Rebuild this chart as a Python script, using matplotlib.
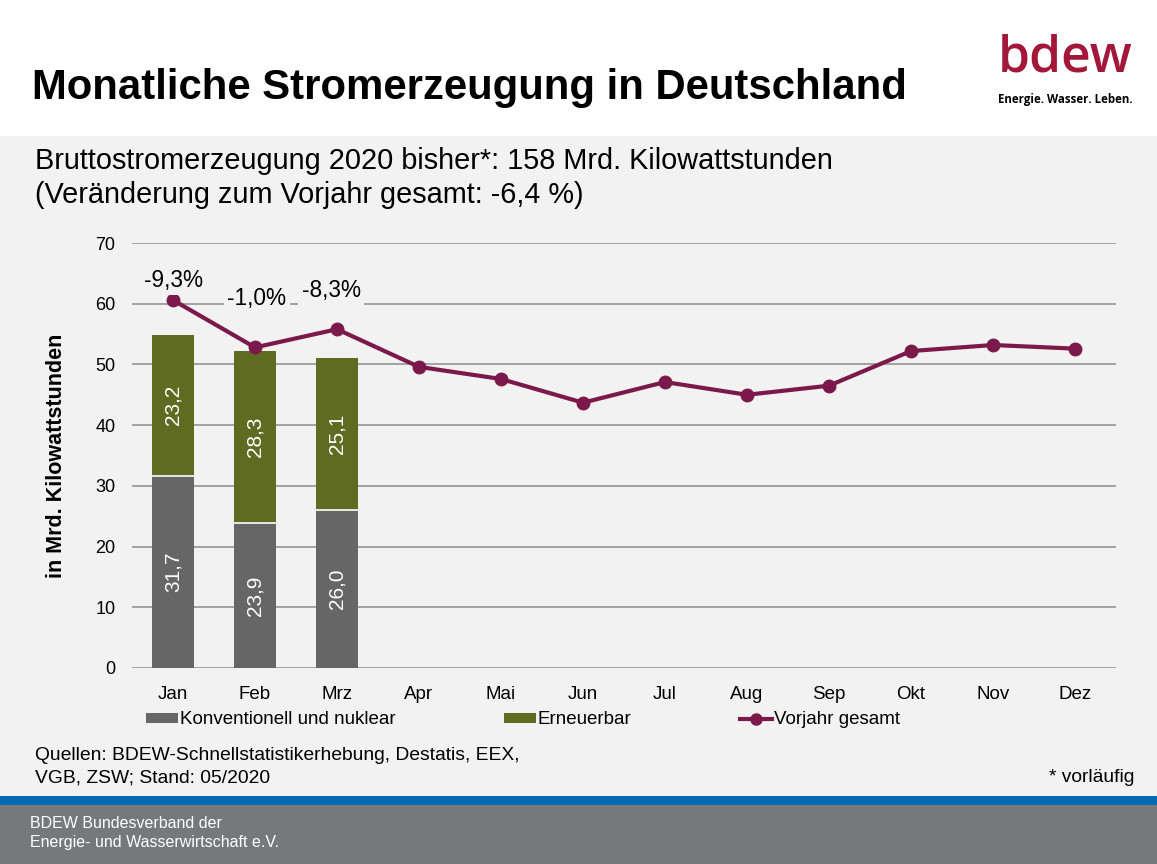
import matplotlib
matplotlib.use("Agg")
import matplotlib.pyplot as plt
from matplotlib.patches import Rectangle
from matplotlib.lines import Line2D
from matplotlib.patches import Patch

plt.rcParams['font.family'] = ['Liberation Sans', 'DejaVu Sans']

months = ["Jan", "Feb", "Mrz", "Apr", "Mai", "Jun", "Jul", "Aug", "Sep", "Okt", "Nov", "Dez"]
konventionell = [31.7, 23.9, 26.0]
erneuerbar = [23.2, 28.3, 25.1]
vorjahr = [60.6, 52.8, 55.8, 49.6, 47.6, 43.7, 47.1, 45.0, 46.5, 52.2, 53.2, 52.6]
changes = ["-9,3%", "-1,0%", "-8,3%"]
yticks = [0, 10, 20, 30, 40, 50, 60, 70]

W, H = 1157, 864
fig = plt.figure(figsize=(W / 100, H / 100), dpi=100, facecolor="white")

def fx(x):
    return x / W

def fy(y):
    return 1 - y / H

# background bands
for (y0, y1, c) in [(136, 796, "#f2f2f2"), (796, 805, "#0069b4"), (805, 864, "#77787b")]:
    fig.add_artist(Rectangle((0, fy(y1)), 1, fy(y0) - fy(y1), transform=fig.transFigure,
                             facecolor=c, edgecolor="none", zorder=-5))

# titles
fig.text(fx(32), fy(88), "Monatliche Stromerzeugung in Deutschland", fontsize=30.2, fontweight="bold",
         va="center", ha="left", color="black")
fig.text(fx(35), fy(161), "Bruttostromerzeugung 2020 bisher*: 158 Mrd. Kilowattstunden",
         fontsize=20.8, va="center", ha="left")
fig.text(fx(35), fy(195), "(Veränderung zum Vorjahr gesamt: -6,4 %)",
         fontsize=20.8, va="center", ha="left")

# logo
fig.text(fx(1065), fy(59), "bdew", fontsize=37, color="#a3173a", ha="center", va="center",
         fontweight=600, family=["Open Sans", "DejaVu Sans"])
fig.text(fx(1065), fy(99), "Energie. Wasser. Leben.", fontsize=8.3, fontweight="bold",
         ha="center", va="center", family=["Open Sans", "DejaVu Sans"])

# axes
ax = fig.add_axes([fx(132), fy(668), fx(1116) - fx(132), fy(243) - fy(668)])
ax.set_zorder(2)
ax.set_facecolor("none")
x = list(range(len(months)))
xb = x[:len(konventionell)]
ax.bar(xb, konventionell, width=0.51, color="#666666", edgecolor="none", zorder=2)
ax.bar(xb, erneuerbar, bottom=konventionell, width=0.51, color="#5f6b21", edgecolor="none", zorder=2)
ax.hlines(konventionell, [i - 0.255 for i in xb], [i + 0.255 for i in xb], colors="white",
          linewidth=1.2, zorder=2.5)
ax.plot(x, vorjahr, color="#7b1a4a", linewidth=3, marker="o", markersize=9, zorder=3)

for i in xb:
    ax.text(i, konventionell[i] / 2, f"{konventionell[i]:.1f}".replace(".", ","), rotation=90,
            color="white", fontsize=15, ha="center", va="center", zorder=4)
    ax.text(i, konventionell[i] + erneuerbar[i] / 2, f"{erneuerbar[i]:.1f}".replace(".", ","),
            rotation=90, color="white", fontsize=15, ha="center", va="center", zorder=4)

label_pos = [(0.01, 63.9), (1.02, 60.9), (1.93, 62.1)]
for (lx, ly), t in zip(label_pos, changes):
    ax.text(lx, ly, t, fontsize=16.3, ha="center", va="center", zorder=4,
            bbox=dict(facecolor="#f2f2f2", edgecolor="none", pad=2.5))

ax.set_xlim(-0.5, 11.5)
ax.set_ylim(0, 70)
ax.set_yticks(yticks)
ax.set_yticklabels([str(v) for v in yticks], fontsize=13)
ax.set_xticks(x)
ax.set_xticklabels(months, fontsize=13.5)
ax.tick_params(length=0, pad=12)
ax.tick_params(axis="x", pad=13)
ax.grid(axis="y", color="#8c8c8c", linewidth=1.1, zorder=0)
ax.set_axisbelow(True)
for s in ax.spines.values():
    s.set_visible(False)
ax.set_ylabel("in Mrd. Kilowattstunden", fontsize=15.5, fontweight="bold", labelpad=20)

# legend
handles = [Patch(facecolor="#666666"), Patch(facecolor="#5f6b21"),
           Line2D([0], [0], color="#7b1a4a", linewidth=3, marker="o", markersize=8)]
labels = ["Konventionell und nuklear", "Erneuerbar", "Vorjahr gesamt"]
fig.legend(handles, labels, loc="center left", bbox_to_anchor=(fx(129), fy(720)), ncol=3,
           frameon=False, fontsize=13.5, handlelength=1.7, handletextpad=0.1,
           columnspacing=5.8, handleheight=0.5)

# sources
fig.text(fx(35), fy(756), "Quellen: BDEW-Schnellstatistikerhebung, Destatis, EEX,", fontsize=13.9,
         va="center", ha="left")
fig.text(fx(35), fy(778), "VGB, ZSW; Stand: 05/2020", fontsize=13.9, va="center", ha="left")
fig.text(fx(1134), fy(778), "* vorläufig", fontsize=13.9, va="center", ha="right")

# footer
fig.text(fx(30), fy(824), "BDEW Bundesverband der", fontsize=11.5, color="white", va="center", ha="left")
fig.text(fx(30), fy(842), "Energie- und Wasserwirtschaft e.V.", fontsize=11.5, color="white",
         va="center", ha="left")

fig.savefig("out.png", dpi=100, facecolor=fig.get_facecolor())
